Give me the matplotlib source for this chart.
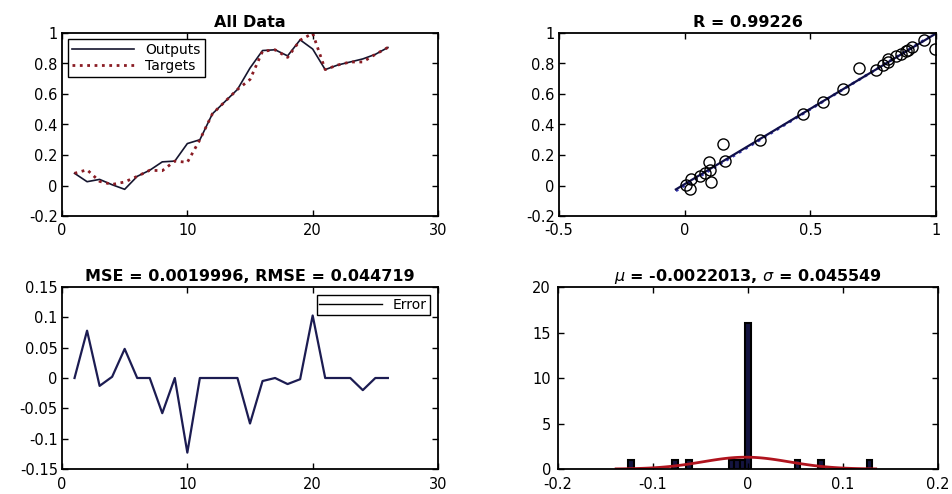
import numpy as np
import matplotlib
matplotlib.use("Agg")
import matplotlib.pyplot as plt
from matplotlib.ticker import FuncFormatter

plt.rcParams['font.family'] = ['DejaVu Sans']
plt.rcParams['axes.unicode_minus'] = False

# data
samples = np.arange(1, 27)
outputs = [0.080, 0.025, 0.040, 0.005, -0.025, 0.060, 0.100, 0.155, 0.160, 0.275,
           0.300, 0.470, 0.550, 0.630, 0.770, 0.885, 0.890, 0.850, 0.955, 0.895,
           0.760, 0.790, 0.810, 0.830, 0.860, 0.905]
targets = [0.080, 0.103, 0.027, 0.007, 0.023, 0.060, 0.100, 0.097, 0.160, 0.152,
           0.300, 0.470, 0.550, 0.630, 0.695, 0.880, 0.890, 0.840, 0.953, 0.998,
           0.760, 0.790, 0.810, 0.810, 0.860, 0.905]

# histogram of the errors (bin centres / counts)
hist_centers = [-0.123, -0.077, -0.062, -0.0171, -0.0114, -0.0057, 0.0, 0.052, 0.077, 0.128]
hist_counts = [1, 1, 1, 1, 1, 1, 16, 1, 1, 1]
bin_w = 0.0057

R_val = 0.99226
mse, rmse = 0.0019996, 0.044719
mu, sigma = -0.0022013, 0.045549

outputs = np.array(outputs)
targets = np.array(targets)
errors = targets - outputs

fmt = FuncFormatter(lambda v, p: '%g' % round(v, 6))
TFS = 11.5  # titles
LFS = 10.5  # tick labels


def matlab_axes(ax, xpad=5, ypad=3):
    ax.tick_params(direction='in', top=True, right=True, length=4, width=1,
                   labelsize=LFS)
    ax.tick_params(axis='x', pad=xpad)
    ax.tick_params(axis='y', pad=ypad)
    for s in ax.spines.values():
        s.set_linewidth(1.3)
    ax.xaxis.set_major_formatter(fmt)
    ax.yaxis.set_major_formatter(fmt)


fig = plt.figure(figsize=(9.52, 4.94), dpi=100)
W, H = 952, 494


def add_ax(l, r, t, b):
    return fig.add_axes([l / W, 1 - b / H, (r - l) / W, (b - t) / H])


# all data
ax1 = add_ax(62, 438, 33, 216)
ax1.plot(samples, outputs, '-', color='#15152e', lw=1.2, label='Outputs')
ax1.plot(samples, targets, ':', color='#8a1c24', lw=2.0, label='Targets')
ax1.set_xlim(0, 30)
ax1.set_ylim(-0.2, 1)
ax1.set_xticks([0, 10, 20, 30])
ax1.set_yticks(np.arange(-0.2, 1.01, 0.2))
ax1.set_title('All Data', fontsize=TFS, fontweight='bold', pad=4)
leg = ax1.legend(loc='upper left', fontsize=10, fancybox=False, framealpha=1,
                 edgecolor='black', borderpad=0.3, handlelength=4.5,
                 labelspacing=0.15, borderaxespad=0.4)
leg.get_frame().set_linewidth(1.0)
matlab_axes(ax1)

# regression
ax2 = add_ax(559, 936, 33, 216)
fit = np.polyfit(targets, outputs, 1)
lo = min(targets.min(), outputs.min()) - 0.01
hi = 1.0
xx = np.array([lo, hi])
ax2.plot(xx, xx, ':', color='#3838b0', lw=2.0)
ax2.plot(xx, np.polyval(fit, xx), '-', color='#10104a', lw=1.6)
ax2.plot(targets, outputs, 'o', mfc='none', mec='black', ms=8, mew=1.0)
ax2.set_xlim(-0.5, 1)
ax2.set_ylim(-0.2, 1)
ax2.set_xticks([-0.5, 0, 0.5, 1])
ax2.set_yticks(np.arange(-0.2, 1.01, 0.2))
ax2.set_title('R = %g' % R_val, fontsize=TFS, fontweight='bold', pad=4)
matlab_axes(ax2)

# error
ax3 = add_ax(62, 438, 287, 469)
ax3.plot(samples, errors, '-', color='#1c1c52', lw=1.6, label='Error')
ax3.set_xlim(0, 30)
ax3.set_ylim(-0.15, 0.15)
ax3.set_xticks([0, 10, 20, 30])
ax3.set_yticks(np.arange(-0.15, 0.151, 0.05))
ax3.set_title('MSE = %g, RMSE = %g' % (mse, rmse), fontsize=TFS, fontweight='bold', pad=4)
leg = ax3.legend(loc='upper right', fontsize=10, fancybox=False, framealpha=1,
                 edgecolor='black', borderpad=0.2, handlelength=4.5,
                 borderaxespad=0.6)
leg.get_frame().set_linewidth(1.0)
for l in leg.get_lines():
    l.set_color('black')
    l.set_linewidth(1.0)
matlab_axes(ax3, xpad=6)

# histogram with normal fit
ax4 = add_ax(558, 938, 287, 469)
ax4.bar(hist_centers, hist_counts, width=bin_w, color='#141440', edgecolor='black', lw=1.5)
xs = np.linspace(mu - 3 * sigma, mu + 3 * sigma, 100)
pdf = len(errors) * bin_w * np.exp(-0.5 * ((xs - mu) / sigma) ** 2) / (sigma * np.sqrt(2 * np.pi))
ax4.plot(xs, pdf, '-', color='#b0141e', lw=2.0)
ax4.set_xlim(-0.2, 0.2)
ax4.set_ylim(0, 20)
ax4.set_xticks(np.arange(-0.2, 0.201, 0.1))
ax4.set_yticks([0, 5, 10, 15, 20])
ax4.set_title('$\\mu$ = %g, $\\sigma$ = %g' % (mu, sigma), fontsize=TFS, fontweight='bold', pad=4)
matlab_axes(ax4, xpad=6, ypad=5)

fig.savefig('out.png', dpi=100, facecolor='white')
